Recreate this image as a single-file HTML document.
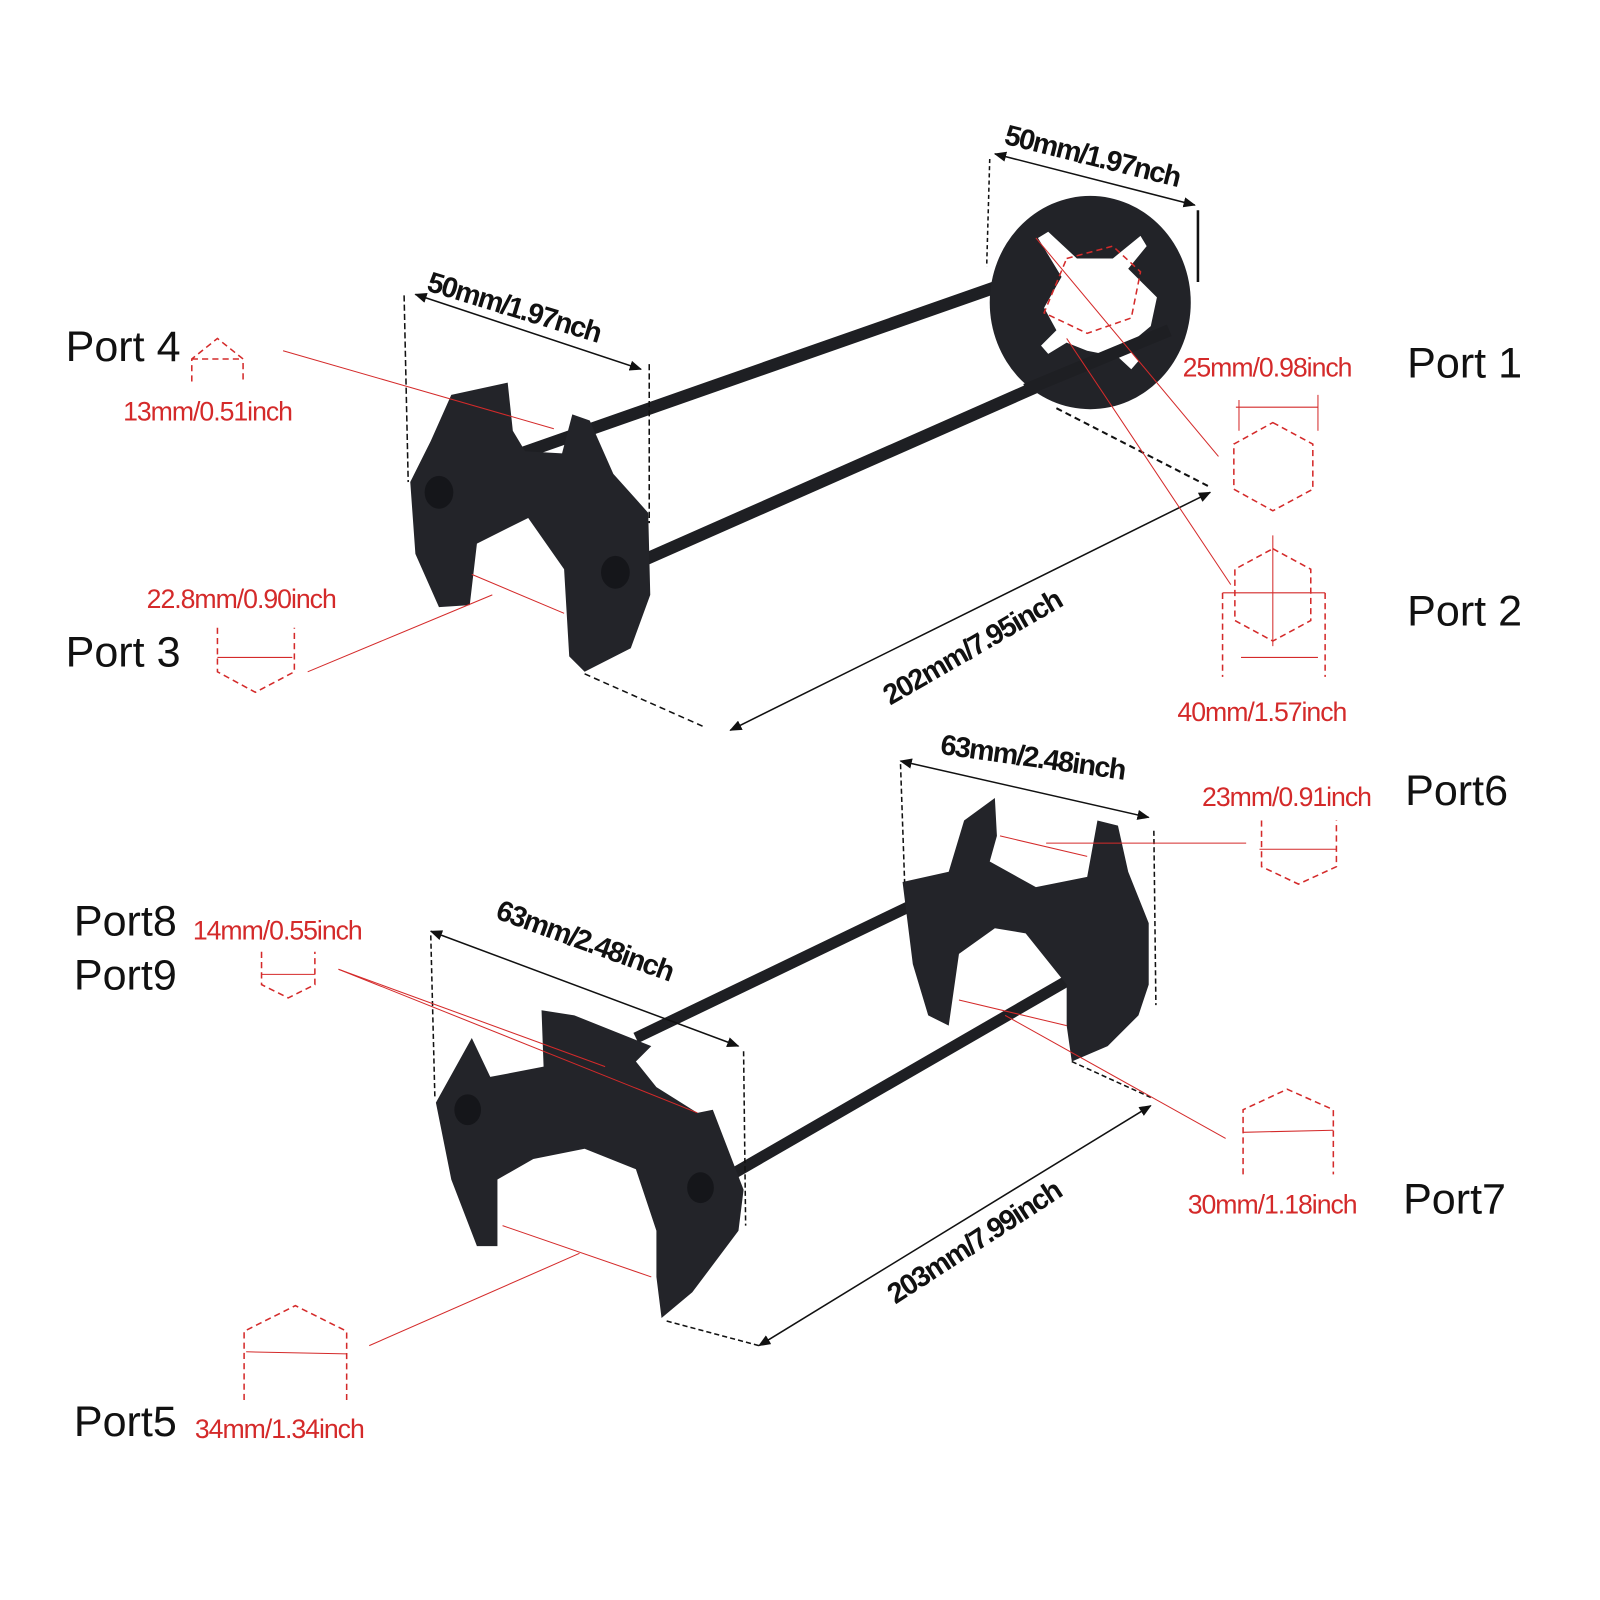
<!DOCTYPE html>
<html><head><meta charset="utf-8"><style>
html,body{margin:0;padding:0;background:#fff;}
svg{display:block;}
.p{font-family:"Liberation Sans",sans-serif;font-size:42px;fill:#111;}
.r{font-family:"Liberation Sans",sans-serif;font-size:26px;fill:#d42a2a;letter-spacing:-1px;}
.b{font-family:"Liberation Sans",sans-serif;font-size:28px;font-weight:bold;fill:#111;letter-spacing:-1.5px;}
</style></head><body>
<svg width="1600" height="1600" viewBox="0 0 1560 1560" xmlns="http://www.w3.org/2000/svg">
<defs>
<marker id="a" markerWidth="12" markerHeight="10" refX="11" refY="5" orient="auto-start-reverse" markerUnits="userSpaceOnUse"><path d="M0,0 L12,5 L0,10 z" fill="#111"/></marker>
</defs>
<rect width="1560" height="1560" fill="#fff"/>
<line x1="500" y1="445" x2="1005" y2="268" stroke="#1e1f23" stroke-width="12"/>
<line x1="630" y1="545" x2="1140" y2="320" stroke="#1e1f23" stroke-width="12"/>
<ellipse cx="1063" cy="295" rx="98" ry="104" fill="#222328"/>
<path d="M1012,232 L1022,226 L1050,252 L1085,252 L1112,230 L1118,240 L1100,262 L1128,290 L1122,318 L1098,338 L1110,352 L1103,360 L1090,348 L1060,342 L1040,334 L1022,345 L1015,337 L1030,322 L1018,300 L1035,270 z" fill="#fff"/>
<line x1="1000" y1="380" x2="1140" y2="322" stroke="#1e1f23" stroke-width="12"/>
<path d="M440,385 L495,373 L500,420 L512,440 L548,442 L558,404 L575,410 L598,462 L632,500 L634,580 L615,632 L570,655 L555,640 L550,555 L515,505 L465,530 L458,590 L428,592 L405,540 L400,470 L420,430 z" fill="#232429"/>
<ellipse cx="428" cy="480" rx="14" ry="16" fill="#15161a"/>
<ellipse cx="600" cy="558" rx="14" ry="16" fill="#15161a"/>
<line x1="620" y1="1012" x2="905" y2="875" stroke="#1e1f23" stroke-width="11"/>
<line x1="705" y1="1150" x2="1100" y2="922" stroke="#1e1f23" stroke-width="11"/>
<path d="M880,860 L925,850 L940,800 L970,778 L972,815 L965,840 L1010,865 L1060,855 L1070,800 L1090,805 L1100,850 L1120,900 L1120,960 L1110,990 L1080,1020 L1045,1035 L1040,1000 L1040,960 L1000,910 L970,905 L935,930 L925,1000 L905,990 L890,940 z" fill="#232429"/>
<path d="M425,1075 L460,1012 L478,1050 L530,1040 L528,985 L560,990 L635,1020 L620,1035 L640,1060 L680,1085 L695,1082 L725,1160 L720,1200 L675,1260 L645,1285 L640,1245 L640,1200 L620,1140 L570,1120 L520,1130 L485,1150 L485,1215 L465,1215 L440,1150 z" fill="#232429"/>
<ellipse cx="456" cy="1082" rx="13" ry="15" fill="#15161a"/>
<ellipse cx="683" cy="1158" rx="13" ry="15" fill="#15161a"/>
<g stroke="#111" stroke-width="1.5" fill="none">
<line x1="405" y1="287" x2="625" y2="360" marker-start="url(#a)" marker-end="url(#a)"/>
<line x1="394" y1="288" x2="398" y2="470" stroke-dasharray="6,3"/>
<line x1="633" y1="355" x2="633" y2="510" stroke-dasharray="6,3"/>
<line x1="970" y1="150" x2="1165" y2="200" marker-start="url(#a)" marker-end="url(#a)"/>
<line x1="965" y1="155" x2="962" y2="260" stroke-dasharray="4,3"/>
<line x1="1168" y1="205" x2="1168" y2="275" stroke-width="2.5"/>
<line x1="712" y1="712" x2="1180" y2="480" marker-start="url(#a)" marker-end="url(#a)"/>
<line x1="1030" y1="398" x2="1180" y2="475" stroke-dasharray="6,4" stroke-width="2"/>
<line x1="570" y1="657" x2="685" y2="708" stroke-dasharray="6,4"/>
<line x1="878" y1="742" x2="1120" y2="797" marker-start="url(#a)" marker-end="url(#a)"/>
<line x1="878" y1="745" x2="882" y2="860" stroke-dasharray="5,3"/>
<line x1="1125" y1="810" x2="1127" y2="980" stroke-dasharray="5,3"/>
<line x1="420" y1="908" x2="720" y2="1020" marker-start="url(#a)" marker-end="url(#a)"/>
<line x1="420" y1="912" x2="424" y2="1070" stroke-dasharray="5,3"/>
<line x1="725" y1="1025" x2="727" y2="1195" stroke-dasharray="5,3"/>
<line x1="740" y1="1312" x2="1122" y2="1078" marker-start="url(#a)" marker-end="url(#a)"/>
<line x1="650" y1="1288" x2="740" y2="1312" stroke-dasharray="5,3"/>
<line x1="1045" y1="1035" x2="1122" y2="1070" stroke-dasharray="5,3"/>
</g>
<text class="b" transform="translate(415,283) rotate(17)">50mm/1.97nch</text>
<text class="b" transform="translate(978,140) rotate(14)">50mm/1.97nch</text>
<text class="b" transform="translate(868,688) rotate(-30)">202mm/7.95inch</text>
<text class="b" transform="translate(916,735) rotate(8)">63mm/2.48inch</text>
<text class="b" transform="translate(482,895) rotate(20)">63mm/2.48inch</text>
<text class="b" transform="translate(873,1272) rotate(-33)">203mm/7.99inch</text>
<g stroke="#d42a2a" stroke-width="1" fill="none">
<line x1="276" y1="342" x2="540" y2="418"/>
<line x1="300" y1="655" x2="480" y2="580"/>
<line x1="460" y1="560" x2="550" y2="598"/>
<line x1="1010" y1="232" x2="1188" y2="445"/>
<line x1="1040" y1="330" x2="1200" y2="570"/>
<line x1="975" y1="815" x2="1060" y2="835"/>
<line x1="1020" y1="822" x2="1215" y2="822"/>
<line x1="330" y1="945" x2="680" y2="1085"/>
<line x1="330" y1="945" x2="590" y2="1040"/>
<line x1="360" y1="1312" x2="565" y2="1222"/>
<line x1="490" y1="1195" x2="635" y2="1245"/>
<line x1="935" y1="975" x2="1040" y2="1000"/>
<line x1="980" y1="990" x2="1195" y2="1110"/>
<line x1="1205" y1="397" x2="1285" y2="397"/>
<line x1="1208" y1="390" x2="1208" y2="420"/>
<line x1="1285" y1="385" x2="1285" y2="420"/>
<line x1="1192" y1="578" x2="1292" y2="578"/>
<line x1="1241" y1="522" x2="1241" y2="630"/>
<line x1="1210" y1="641" x2="1285" y2="641"/>
<line x1="212" y1="641" x2="285" y2="641"/>
<line x1="1228" y1="828" x2="1303" y2="828"/>
<line x1="255" y1="950" x2="307" y2="950"/>
<line x1="1212" y1="1104" x2="1300" y2="1102"/>
<line x1="240" y1="1318" x2="338" y2="1320"/>
</g>
<g stroke="#d42a2a" stroke-width="1.5" fill="none" stroke-dasharray="6,4">
<path d="M1040,252 L1085,240 L1112,265 L1103,310 L1060,325 L1018,305 z"/>
<path d="M1241,412 L1280,433 L1280,477 L1241,498 L1203,477 L1203,433 z"/>
<path d="M1241,535 L1278,555 L1278,605 L1241,625 L1204,605 L1204,555 z"/>
<path d="M1192,578 L1192,660 M1292,578 L1292,660"/>
<path d="M187,372 L187,350 L212,330 L237,350 L237,372 M187,350 L237,350"/>
<path d="M212,612 L212,655 L249,675 L287,655 L287,612"/>
<path d="M1230,800 L1230,845 L1266,862 L1303,845 L1303,800"/>
<path d="M255,928 L255,960 L281,973 L307,960 L307,928"/>
<path d="M1212,1145 L1212,1082 L1255,1062 L1300,1082 L1300,1145"/>
<path d="M238,1365 L238,1298 L288,1273 L338,1298 L338,1365"/>
</g>
<text class="p" x="64" y="352">Port 4</text>
<text class="p" x="64" y="650">Port 3</text>
<text class="p" x="1372" y="368">Port 1</text>
<text class="p" x="1372" y="610">Port 2</text>
<text class="p" x="1370" y="785">Port6</text>
<text class="p" x="72" y="912">Port8</text>
<text class="p" x="72" y="965">Port9</text>
<text class="p" x="1368" y="1183">Port7</text>
<text class="p" x="72" y="1400">Port5</text>
<text class="r" x="120" y="410">13mm/0.51inch</text>
<text class="r" x="143" y="593">22.8mm/0.90inch</text>
<text class="r" x="1153" y="367">25mm/0.98inch</text>
<text class="r" x="1148" y="703">40mm/1.57inch</text>
<text class="r" x="1172" y="786">23mm/0.91inch</text>
<text class="r" x="188" y="916">14mm/0.55inch</text>
<text class="r" x="1158" y="1183">30mm/1.18inch</text>
<text class="r" x="190" y="1402">34mm/1.34inch</text>
</svg>
</body></html>
